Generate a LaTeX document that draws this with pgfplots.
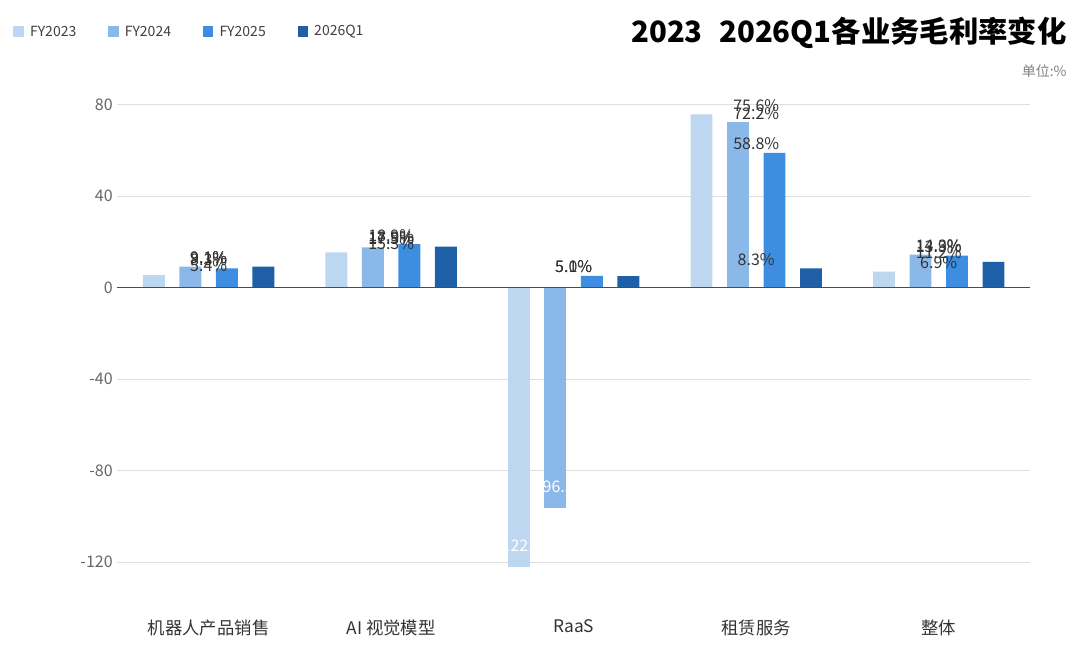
\documentclass[border=0pt]{standalone}
\usepackage{pgfplots}
\pgfplotsset{compat=1.18}
\usepackage{fontspec}
\setmainfont{Noto Sans CJK SC}
\definecolor{cA}{HTML}{BDD7F0}
\definecolor{cB}{HTML}{8AB8E8}
\definecolor{cC}{HTML}{3D8DE0}
\definecolor{cD}{HTML}{1F5FA8}
\begin{document}
\begin{tikzpicture}
\begin{axis}[
  scale only axis, width=684pt, height=374pt,
  xmin=-0.5, xmax=4.5, ymin=-130, ymax=88,
  axis x line*=bottom, axis y line*=left, axis line style={draw=none},
  xtick={0,1,2,3,4}, xticklabels={机器人产品销售,AI 视觉模型,RaaS,租赁服务,整体},
  xticklabel style={font=\fontsize{13}{15}\selectfont, text=black!80, yshift=-18pt},
  ytick={-120,-80,-40,0,40,80}, tick style={draw=none},
  ymajorgrids, grid style={gray!25},
  yticklabel style={font=\fontsize{12}{14}\selectfont, text=gray!80!black},
  /pgf/number format/assume math mode=true,
  bar width=0.12, ybar=0pt,
  every node near coord/.style={font=\fontsize{12}{14}\selectfont, text=black!80, inner sep=2pt},
  clip=false,
]
\addplot[draw=none, fill=cA, bar shift=-0.3, nodes near coords={\pgfmathprintnumber[fixed,precision=1,fixed zerofill]{\pgfplotspointmeta}\%}] coordinates {(0,5.4)(1,15.3)(3,75.6)(4,6.9)};
\addplot[draw=none, fill=cB, bar shift=-0.1, nodes near coords={\pgfmathprintnumber[fixed,precision=1,fixed zerofill]{\pgfplotspointmeta}\%}] coordinates {(0,9.1)(1,17.5)(3,72.2)(4,14.3)};
\addplot[draw=none, fill=cC, bar shift=0.1, nodes near coords={\pgfmathprintnumber[fixed,precision=1,fixed zerofill]{\pgfplotspointmeta}\%}] coordinates {(0,8.3)(1,18.9)(2,5.1)(3,58.8)(4,13.9)};
\addplot[draw=none, fill=cD, bar shift=0.3, nodes near coords={\pgfmathprintnumber[fixed,precision=1,fixed zerofill]{\pgfplotspointmeta}\%}] coordinates {(0,9.1)(1,17.9)(2,5.0)(3,8.3)(4,11.2)};
\addplot[draw=none, fill=cA, bar shift=-0.3] coordinates {(2,-122.2)};
\addplot[draw=none, fill=cB, bar shift=-0.1] coordinates {(2,-96.3)};
\draw[black!70, line width=0.8pt] (axis cs:-0.5,0) -- (axis cs:4.5,0);
\node[text=white, font=\fontsize{12}{14}\selectfont] at (axis cs:1.7,-113) {-122.2};
\node[text=white, font=\fontsize{12}{14}\selectfont] at (axis cs:1.9,-87) {-96.3};
\coordinate (SW) at (rel axis cs:0,0);
\coordinate (NE) at (rel axis cs:1,1);
\end{axis}
\path[use as bounding box] ([shift={(-88pt,-51pt)}]SW) rectangle ([shift={(37.5pt,64.5pt)}]NE);
\node[anchor=east, font=\bfseries\fontsize{22}{24}\selectfont] at ([shift={(31pt,40pt)}]NE) {2023\,~\,2026Q1各业务毛利率变化};
\node[anchor=east, font=\fontsize{10.5}{12}\selectfont, text=gray] at ([shift={(31pt,11pt)}]NE) {单位:\%};
\foreach \c/\t/\x in {cA/FY2023/0,cB/FY2024/71,cC/FY2025/142,cD/2026Q1/213}{
  \fill[\c] ([shift={(\x pt-78pt,37pt)}]SW|-NE) rectangle ++(8pt,8pt);
  \node[anchor=west, font=\fontsize{10.5}{12}\selectfont, text=black!75] at ([shift={(\x pt-69pt,41pt)}]SW|-NE) {\t};
}
\end{tikzpicture}
\end{document}
